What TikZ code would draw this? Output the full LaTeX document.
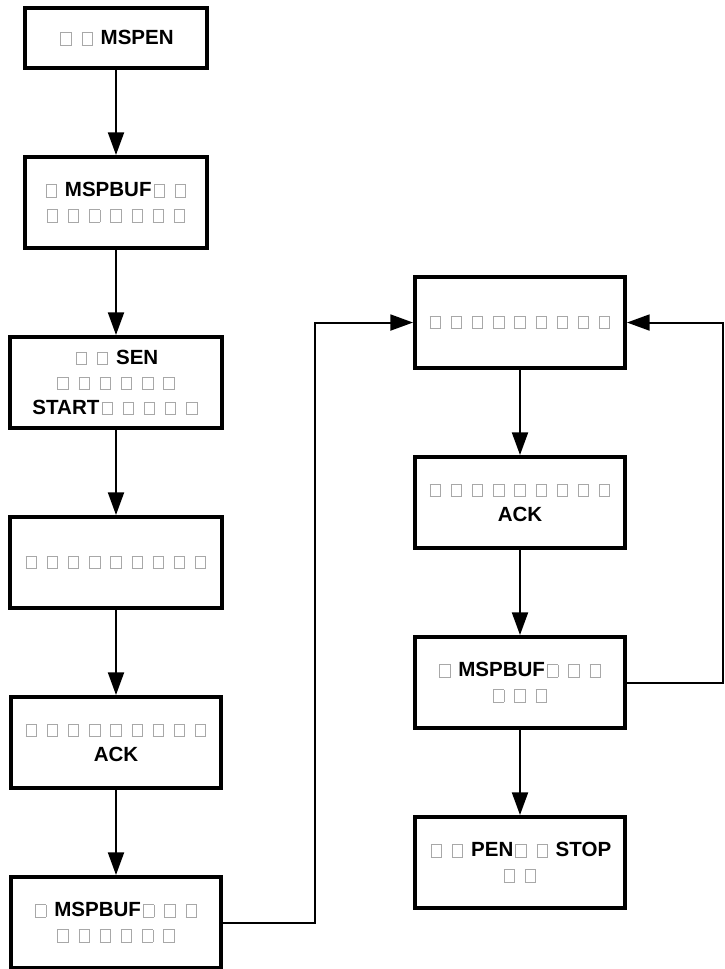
\documentclass[tikz,border=0pt]{standalone}
\usepackage{fontspec}
\setmainfont{Liberation Sans}
\usepackage{xcolor}
\usepackage{tikz}
\usetikzlibrary{positioning,arrows.meta}

\definecolor{tofugray}{HTML}{A8A8A8}
% empty glyph box as printed in the reference
\newcommand{\sq}{\kern1.6pt{\color{tofugray}\fboxsep=0pt\fboxrule=0.6pt\fbox{\vrule width0pt height8.8pt\kern7.2pt}}\kern1.6pt}

\begin{document}
\begin{tikzpicture}[
    x=1pt, y=1pt,
    node distance=63.75pt,
    box/.style={
        rectangle,
        draw=black,
        line width=3pt,
        fill=white,
        align=center,
        inner sep=2pt,
        minimum width=157.5pt,
        minimum height=68.25pt,
        font=\bfseries\fontsize{15.4}{18.75}\selectfont
    },
    narrow/.style={
        minimum width=136.5pt
    },
    arrow/.style={
        -{Triangle[length=17pt,width=12pt]},
        line width=1.5pt,
        draw=black
    }
]
\useasboundingbox (0,0) rectangle (543,-726.75);

% Left column
\node[box, narrow, minimum height=45pt] (enable) at (87,-28.5) {\sq\ \sq\ MSPEN};
\node[box, narrow, below=of enable] (bufset) {\sq\ MSPBUF\sq\ \sq\\ \sq\ \sq\ \sq\ \sq\ \sq\ \sq\ \sq};
\node[box, minimum width=159pt, below=of bufset] (start) {\sq\ \sq\ SEN\\ \sq\ \sq\ \sq\ \sq\ \sq\ \sq\\ START\sq\ \sq\ \sq\ \sq\ \sq};
\node[box, minimum width=159pt, below=of start] (waitaddr) {\sq\ \sq\ \sq\ \sq\ \sq\ \sq\ \sq\ \sq\ \sq};
\node[box, below=of waitaddr] (ackaddr) {\sq\ \sq\ \sq\ \sq\ \sq\ \sq\ \sq\ \sq\ \sq\\ ACK};
\node[box, below=of ackaddr] (bufaddr) {\sq\ MSPBUF\sq\ \sq\ \sq\\ \sq\ \sq\ \sq\ \sq\ \sq\ \sq};

% Right column
\node[box] (waitdata) at (390,-241.9) {\sq\ \sq\ \sq\ \sq\ \sq\ \sq\ \sq\ \sq\ \sq};
\node[box, below=of waitdata] (ackdata) {\sq\ \sq\ \sq\ \sq\ \sq\ \sq\ \sq\ \sq\ \sq\\ ACK};
\node[box, below=of ackdata] (bufdata) {\sq\ MSPBUF\sq\ \sq\ \sq\\ \sq\ \sq\ \sq};
\node[box, below=of bufdata] (stop) {\sq\ \sq\ PEN\sq\ \sq\ STOP\\ \sq\ \sq};

% Connections
\draw[arrow] (enable) -- (bufset);
\draw[arrow] (bufset) -- (start);
\draw[arrow] (start) -- (waitaddr);
\draw[arrow] (waitaddr) -- (ackaddr);
\draw[arrow] (ackaddr) -- (bufaddr);
\draw[arrow] (bufaddr.east) -| ([xshift=-73.5pt]waitdata.west) -- (waitdata.west);

\draw[arrow] (waitdata) -- (ackdata);
\draw[arrow] (ackdata) -- (bufdata);
\draw[arrow] (bufdata) -- (stop);
\draw[arrow] (bufdata.east) -| ([xshift=152pt]waitdata.center) -- (waitdata.east);

\end{tikzpicture}
\end{document}
